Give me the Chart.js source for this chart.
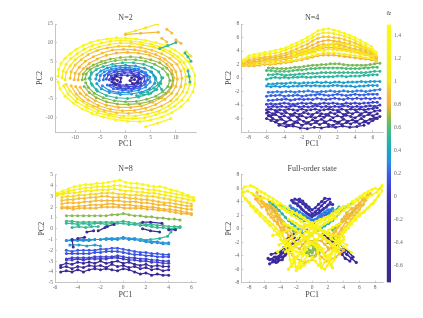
<!DOCTYPE html>
<html><head><meta charset="utf-8">
<style>html,body{margin:0;padding:0;background:#fff;width:423px;height:318px;overflow:hidden}
.p{position:absolute;filter:blur(.45px)}canvas{display:block}</style>
<script src="https://cdn.jsdelivr.net/npm/chart.js@4"></script></head><body>
<div class="p" style="left:0;top:0;width:212px;height:159px"><canvas id="c1"></canvas></div>
<div class="p" style="left:212px;top:0;width:175px;height:159px"><canvas id="c2"></canvas></div>
<div class="p" style="left:0;top:159px;width:212px;height:159px"><canvas id="c3"></canvas></div>
<div class="p" style="left:212px;top:159px;width:175px;height:159px"><canvas id="c4"></canvas></div>
<div class="p" style="left:380px;top:0;width:43px;height:318px"><canvas id="cb"></canvas></div>
<script>
// ---------- colour bar ----------
const cbarValues=[-0.75,-0.2,0,0.1,0.2,0.3,0.4,0.5,0.6,0.7,0.8,0.9,1.0,1.5];
const cbarColors=['#39288f','#3a2a9c','#3c34b4','#3f45d8','#3a60e6','#2a8ee0','#1aa6c6','#2db5a0','#4fbc78','#9ab840','#f5b335','#f5c03a','#f6e51f','#f9fb15'];
const cbarTicks=[-0.6,-0.4,-0.2,0,0.2,0.4,0.6,0.8,1,1.2,1.4];

// ---------- N=2 ----------
const n2Ya=[[-13.4,1],[-13.3,2.8],[-12.8,4.4],[-12,5.8],[-11,7],[-9.8,8.2],[-8.4,9.2],[-7,10],[-5.4,10.6],[-3.6,11],[-1.8,11.3],[0,11.2],[2,11],[4,10.6],[6,10],[8,9.2],[9.8,8],[11.2,6.6],[12.4,5],[13.2,3.2],[13.8,1.2],[13.8,-1],[13.4,-3.2],[12.4,-5.4],[11,-7.2],[9.2,-8.8],[7.2,-10],[5,-10.8],[2.8,-11.2],[0.4,-11.1],[-2,-10.7],[-4.4,-10],[-6.6,-9],[-8.6,-7.8],[-10.4,-6.2],[-12,-4.4],[-13,-2.4],[-13.4,-0.6]];
const n2Yb=[[-12.6,0.6],[-12.4,2.4],[-11.8,4.2],[-10.8,5.8],[-9.6,7],[-8.2,8.2],[-6.6,9.2],[-4.8,9.9],[-3,10.4],[-1,10.6],[1,10.4],[3,10.1],[5,9.6],[7,8.8],[8.8,7.6],[10.4,6.2],[11.6,4.6],[12.4,2.8],[12.8,0.8],[12.8,-1.2],[12.2,-3.4],[11.2,-5.4],[9.8,-7],[8,-8.4],[6,-9.4],[3.8,-10.2],[1.4,-10.4],[-1,-10.2],[-3.4,-9.6],[-5.6,-8.8],[-7.8,-7.4],[-9.8,-5.8],[-11.4,-3.8],[-12.3,-1.6]];
const n2Yc=[[-12,0],[-11.8,2],[-11,3.8],[-10,5.4],[-8.6,6.8],[-7,8],[-5.2,8.9],[-3.2,9.5],[-1,9.9],[1.2,9.8],[3.4,9.4],[5.6,8.8],[7.6,7.8],[9.4,6.4],[10.8,4.8],[11.6,3],[12,1],[11.9,-1.2],[11.4,-3.2],[10.2,-5.2],[8.6,-7],[6.6,-8.4],[4.4,-9.2],[2,-9.7],[-0.4,-9.7],[-3,-9.2],[-5.4,-8.2],[-7.6,-6.8],[-9.6,-5],[-11,-3],[-11.8,-1.2]];
const n2Oa=[[-11,0.4],[-10.8,2.2],[-10,4],[-8.8,5.4],[-7.4,6.8],[-5.6,7.9],[-3.6,8.6],[-1.4,9],[0.8,9],[3,8.7],[5.2,8],[7.2,7],[8.8,5.8],[10.2,4.2],[11,2.4],[11.2,0.4],[11,-1.8],[10.2,-3.8],[9,-5.6],[7.2,-7],[5.2,-8],[3,-8.7],[0.6,-9],[-1.8,-8.8],[-4.2,-8.2],[-6.4,-7],[-8.4,-5.6],[-9.8,-3.8],[-10.8,-1.6]];
const n2Ob=[[-10.2,0],[-10,1.8],[-9.2,3.4],[-8,5],[-6.4,6.2],[-4.6,7.2],[-2.6,8],[-0.4,8.2],[1.8,8.1],[4,7.6],[6,6.8],[7.8,5.6],[9.2,4],[10,2.2],[10.3,0.2],[10,-1.8],[9.2,-3.6],[7.8,-5.2],[6,-6.6],[4,-7.6],[1.8,-8.2],[-0.6,-8.3],[-3,-7.9],[-5.4,-6.9],[-7.4,-5.4],[-9,-3.6],[-9.9,-1.8]];
const n2Oc=[[-9.4,0],[-9.2,1.6],[-8.4,3],[-7.2,4.4],[-5.6,5.6],[-3.8,6.6],[-1.8,7.2],[0.4,7.4],[2.6,7.2],[4.8,6.6],[6.8,5.6],[8.2,4.2],[9.2,2.6],[9.6,0.6],[9.4,-1.4],[8.6,-3.2],[7.2,-4.8],[5.4,-6],[3.2,-7],[1,-7.4],[-1.4,-7.4],[-3.8,-6.8],[-6,-5.6],[-7.8,-4],[-9,-2]];
const n2Ga=[[-8.6,0],[-8.4,1.6],[-7.6,3],[-6.4,4],[-4.8,4.9],[-3,5.6],[-1,6],[1,6.2],[3,6],[5,5.4],[6.8,4.6],[8.2,3.2],[9.2,1.6],[9.4,-0.2],[9,-2],[8,-3.6],[6.6,-4.8],[4.8,-5.8],[2.8,-6.4],[0.6,-6.6],[-1.6,-6.5],[-3.8,-5.9],[-5.8,-4.8],[-7.2,-3.4],[-8.2,-1.8]];
const n2Gb=[[-8,0.2],[-7.8,1.6],[-7,2.8],[-5.6,3.8],[-4,4.6],[-2,5.2],[0,5.4],[2,5.4],[4,5],[5.8,4.2],[7.4,3],[8.4,1.4],[8.8,-0.2],[8.4,-1.8],[7.4,-3.2],[6,-4.4],[4.2,-5.2],[2.2,-5.8],[0,-5.9],[-2.2,-5.6],[-4.4,-4.8],[-6.2,-3.6],[-7.4,-2],[-7.9,-0.8]];
const n2Ta=[[-7,0.2],[-6.8,1.6],[-5.8,2.8],[-4.4,3.6],[-2.6,4.2],[-0.6,4.6],[1.6,4.6],[3.6,4.2],[5.2,3.4],[6.6,2.2],[7.2,0.6],[7,-1],[6,-2.6],[4.6,-3.8],[2.6,-4.6],[0.4,-5],[-1.8,-4.8],[-3.8,-4.2],[-5.6,-3],[-6.6,-1.4]];
const n2Ba=[[-5.9,0.2],[-5.7,1.4],[-4.9,2.4],[-3.6,3.2],[-2,3.7],[0,3.9],[2,3.7],[3.8,3.1],[5.2,2.1],[5.9,0.7],[5.8,-0.9],[4.8,-2.4],[3.2,-3.3],[1.2,-3.8],[-1,-3.9],[-3.2,-3.4],[-4.8,-2.4],[-5.7,-1]];
const n2Bb=[[-5.2,-0.2],[-5,1.2],[-4.2,2.2],[-2.8,2.9],[-1,3.3],[0.8,3.3],[2.6,2.9],[4,2],[4.8,0.8],[4.9,-0.6],[4,-1.9],[2.6,-2.8],[0.6,-3.3],[-1.4,-3.4],[-3.2,-2.9],[-4.6,-1.6]];
const n2Ca=[[-4.4,0],[-4.2,1.2],[-3.2,2.2],[-1.8,2.7],[0,2.9],[1.8,2.7],[3.2,2.2],[4.2,1.2],[4.4,0],[3.9,-1.2],[2.8,-2.1],[1.2,-2.7],[-0.6,-2.8],[-2.4,-2.4],[-3.6,-1.4]];
const n2Cb=[[-3.8,0.2],[-3.4,1.4],[-2.2,2.1],[-0.6,2.4],[1,2.4],[2.6,1.9],[3.7,0.9],[3.8,-0.4],[3,-1.5],[1.6,-2.2],[0,-2.4],[-1.6,-2.2],[-3,-1.4]];
const n2Cc=[[-3.2,0],[-2.8,1.1],[-1.6,1.7],[-0.2,1.9],[1.2,1.9],[2.6,1.3],[3.2,0.4],[3,-0.8],[2,-1.6],[0.6,-1.9],[-1,-1.9],[-2.4,-1.2]];
const n2Cd=[[-2.6,0.4],[-2,1.2],[-0.8,1.3],[0.4,1.2],[1.6,1.3],[2.6,0.7],[2.4,-0.4],[1.6,-1.2],[0.2,-1.4],[-1.2,-1.4],[-2.2,-0.8]];
const n2Core1=[[-2.6,0.3],[-1.8,1],[-0.9,0.5],[-1,-0.6],[-2,-1.2],[-2.7,-0.5],[-2.2,0.2],[-1.6,-0.2]];
const n2Core2=[[1.2,0.6],[2,1],[2.8,0.3],[2.4,-0.8],[1.4,-1],[0.9,-0.2],[1.8,0.1]];
const n2Loose1=[[5,2.2],[5.6,1.2],[6,0.2],[6.6,-1.4],[7.2,-2.6]];
const n2Loose2=[[3,-3.6],[4.4,-3.2],[5.6,-2.2],[6.8,-0.8],[7.4,0.6]];
const n2Loose3=[[-6.8,2],[-7.2,0.4],[-6.8,-1],[-5.8,-2.6]];
const n2Loose4=[[2.2,-4.2],[3.6,-4],[5,-3.6],[6.2,-2.6]];
const n2Spur1=[[0,12.4],[2,13.2],[4,14],[6.4,15]];
const n2Spur2=[[0,12.2],[3,12.5],[6.5,12.8]];
const n2Spur3=[[8.2,13.6],[9.2,12.6]];
const n2Spur4=[[7.2,11.2],[8.2,10.2]];
const n2Spur5=[[10,10.8],[11,9.8]];
const n2Spur6=[[12,7.6],[13,6.4]];
const n2Spur7=[[4,-12.6],[6.4,-11.6],[9,-10.4]];
const n2Spur8=[[6.8,8.4],[8.4,9.2],[10,10]];
const n2Spur9=[[11.8,7.2],[12.4,6.2],[13,5]];
const n2Spur10=[[12.4,2.4],[12.6,1],[12.8,-0.6]];
const n2Tracks=[n2Ya,n2Yb,n2Yc,n2Oa,n2Ob,n2Oc,n2Ga,n2Gb,n2Ta,n2Loose1,n2Loose2,n2Loose3,n2Loose4,n2Ba,n2Bb,n2Ca,n2Cb,n2Cc,n2Cd,n2Core1,n2Core2,n2Spur1,n2Spur2,n2Spur3,n2Spur4,n2Spur5,n2Spur6,n2Spur7,n2Spur8,n2Spur9,n2Spur10];
const n2Values=[1.4,1.25,1.05,0.92,0.88,0.84,0.7,0.66,0.52,0.5,0.5,0.5,0.5,0.34,0.3,0.22,0.14,0.1,0.05,-0.2,-0.2,1.05,0.85,0.9,0.9,0.85,1.0,1.3,0.52,0.52,0.52];

// ---------- N=4 (rows sampled along shared x lists) ----------
const x4a=[-6,-5.5,-5,-4.5,-4,-3.5,-3,-2.5,-2,-1.5,-1,-0.5,0,0.5,1,1.5,2,2.5,3,3.5,4,4.5,5,5.5,6,6.5];
const x4b=[-5.8,-5.3,-4.8,-4.3,-3.8,-3.3,-2.8,-2.3,-1.8,-1.3,-0.8,-0.3,0.2,0.7,1.2,1.7,2.2,2.7,3.2,3.7,4.2,4.7,5.2,5.7,6.2,6.8];
const x4w=[-8.6,-8,-7.4,-6.8,-6.2,-5.6,-5,-4.4,-3.8,-3.2,-2.6,-2,-1.4,-0.8,-0.2,0.4,1,1.6,2.2,2.8,3.4,4,4.6,5.2,5.8,6.4];
const x4r=[-3,-2.5,-2,-1.5,-1,-0.5,0,0.5,1,1.5,2,2.5,3,3.5,4,4.5,5,5.5,6];
const x4low=[-4.6,-3.8,-3,-2.2,-1.4,-0.6,0.2,1,1.8,2.6,3.4,4.2,5];
const n4D1=[-7,-7.2,-7.1,-7.4,-7.5,-7.3,-7.4,-7.2,-7.3,-7.1,-7.3,-7.2,-7];
const n4D2=[-6,-6.3,-6.5,-6.9,-6.7,-7,-6.8,-6.6,-7,-6.7,-6.9,-6.6,-6.9,-6.6,-6.9,-7,-6.7,-6.9,-6.6,-6.8,-6.5,-6.8,-6.5,-6.7,-6.3,-6];
const n4D3=[-5.6,-6,-6.3,-6.1,-6.5,-6.2,-6.5,-6.1,-6.4,-6.6,-6.2,-6.4,-6.1,-6.5,-6.2,-6.4,-6.5,-6.1,-6.4,-6.2,-6.4,-6,-6.4,-6.1,-5.9,-5.7];
const n4D4=[-5.2,-5.6,-5.4,-5.8,-5.6,-5.9,-5.5,-5.8,-5.6,-5.9,-5.7,-5.9,-5.6,-5.8,-5.5,-5.9,-5.6,-5.8,-5.5,-5.7,-5.9,-5.5,-5.7,-5.4,-5.6,-5.3];
const n4D5=[-5,-5.3,-5,-5.3,-5.1,-5.4,-5.2,-5.4,-5.1,-5.3,-5.4,-5.1,-5.3,-5.4,-5.1,-5.3,-5,-5.4,-5.1,-5.3,-5,-5.3,-5,-5.2,-4.9,-4.8];
const n4D6=[-4.7,-4.6,-4.8,-4.7,-4.8,-4.6,-4.7,-4.8,-4.6,-4.8,-4.7,-4.6,-4.8,-4.7,-4.6,-4.7,-4.8,-4.6,-4.8,-4.6,-4.7,-4.6,-4.7,-4.6,-4.5,-4.4];
const n4B1=[-4.3,-4.2,-4.3,-4.2,-4.3,-4.2,-4.1,-4.3,-4.2,-4.3,-4.2,-4.1,-4.3,-4.2,-4.3,-4.2,-4.3,-4.1,-4.2,-4.3,-4.2,-4.3,-4.2,-4.1,-4.2,-4];
const n4B2=[-3.9,-3.8,-3.9,-3.8,-3.7,-3.8,-3.9,-3.8,-3.7,-3.8,-3.7,-3.9,-3.8,-3.7,-3.8,-3.7,-3.8,-3.9,-3.7,-3.8,-3.7,-3.8,-3.7,-3.7,-3.6,-3.6];
const n4B3=[-3.3,-3.3,-3.2,-3.2,-3.1,-3.3,-3.2,-3.1,-3.2,-3.1,-3.2,-3,-3.1,-3.2,-3.1,-3,-3.1,-3.2,-3,-3.1,-3,-3.1,-3,-3.1,-3,-3];
const n4B4=[-2.7,-2.6,-2.6,-2.5,-2.7,-2.6,-2.6,-2.5,-2.7,-2.6,-2.5,-2.5,-2.4,-2.5,-2.6,-2.5,-2.4,-2.5,-2.6,-2.5,-2.4,-2.5,-2.5,-2.4,-2.4,-2.4];
const n4B5=[-2.1,-2.1,-2,-2.1,-2,-2,-2.1,-2,-2,-1.9,-2,-2.1,-2,-2,-1.9,-2,-2,-1.9,-2,-2,-1.9,-1.9,-2,-1.9,-1.8,-1.7];
const n4C1=[-1.2,-1.3,-1.2,-1.3,-1.2,-1.3,-1.2,-1.2,-1.2,-1.1,-1.2,-1.1,-1.2,-1.2,-1.2,-1.1,-1.1,-1.2,-1.2,-1.2,-1.3,-1.2,-1.2,-1.1,-1.1,-1.1];
const n4C2=[-0.9,-0.9,-0.8,-0.8,-0.8,-0.7,-0.7,-0.8,-0.7,-0.7,-0.7,-0.6,-0.7,-0.6,-0.7,-0.6,-0.6,-0.7,-0.6,-0.6,-0.6,-0.5,-0.6,-0.5,-0.5,-0.5];
const n4T1=[-0.2,0,0.1,0,0.1,0,0.1,0.1,0.2,0.1,0.1,0.2,0.2,0.2,0.2,0.2,0.3,0.3,0.2,0.3,0.3,0.3,0.4,0.4,0.5,0.5];
const n4T2=[0.5,0.5,0.6,0.5,0.4,0.5,0.5,0.6,0.6,0.7,0.7,0.7,0.8,0.8,0.8,0.8,0.8,0.8,0.8,0.8,0.8,0.8,0.8,0.9,1,1];
const n4G1=[1.1,1.1,1,1,1,1,1.1,1.2,1.2,1.3,1.4,1.4,1.5,1.5,1.5,1.5,1.5,1.5,1.4,1.4,1.4,1.4,1.5,1.5,1.6,1.6];
const n4G2=[1.5,1.5,1.4,1.4,1.4,1.5,1.6,1.6,1.7,1.8,1.9,1.9,2,2,2.1,2.1,2.1,2,1.9,1.9,1.9,1.9,1.9,2,2.1,2.2];
const n4O1=[1.8,1.8,1.8,1.9,2,2,2.1,2.2,2.3,2.4,2.6,2.7,2.9,3.1,3.3,3.4,3.4,3.4,3.3,3.2,3.1,3,2.9,2.8,2.7,2.5];
const n4Y5=[1.9,2,2,2.1,2.2,2.2,2.3,2.4,2.5,2.6,2.7,2.9,3.1,3.3,3.5,3.7,3.7,3.7,3.6,3.5,3.4,3.3,3.2,3,2.9,2.6];
const n4O2=[2,2.1,2.2,2.3,2.5,2.5,2.6,2.7,2.8,3,3.2,3.4,3.7,4,4.3,4.5,4.5,4.5,4.4,4.3,4.1,3.9,3.7,3.5,3.2,2.8];
const n4Y4=[2.1,2.2,2.3,2.4,2.6,2.6,2.7,2.8,3,3.1,3.3,3.6,3.9,4.2,4.5,4.7,4.8,4.7,4.6,4.5,4.3,4.1,3.9,3.6,3.3,2.9];
const n4O3=[2.2,2.3,2.4,2.5,2.7,2.8,2.8,3,3.1,3.3,3.5,3.8,4.1,4.4,4.8,5,5,5,4.9,4.7,4.5,4.3,4.1,3.8,3.5,2.9];
const n4O4=[2.3,2.5,2.6,2.8,2.9,3,3.1,3.2,3.4,3.7,3.9,4.2,4.5,4.9,5.3,5.5,5.6,5.5,5.4,5.2,5,4.7,4.4,4.1,3.7,3];
const n4O5=[2.4,2.7,2.9,3,3.1,3.2,3.3,3.5,3.7,4,4.3,4.7,5,5.5,5.9,6.1,6.1,6,5.9,5.7,5.4,5.2,4.8,4.4,4,3.2];
const n4Y2=[2.5,3,3.2,3.3,3.5,3.6,3.7,3.9,4.2,4.5,4.8,5.2,5.5,6,6.5,6.7,6.7,6.6,6.4,6.2,5.9,5.6,5.2,4.7,4.3,3.4];
const n4Y1=[2.7,3.3,3.5,3.6,3.8,3.9,4.1,4.3,4.5,4.9,5.2,5.6,6,6.5,7,7.2,7.3,7.1,6.9,6.6,6.3,6,5.6,5.1,4.7,3.8];
const n4Y3=[3.8,3.9,4,4.1,4.1,4.3,4.5,4.7,5,5.1,5.2,5.1,5,4.9,4.8,4.6,4.4,4.2,3.9];
const n4Y6=[3.4,3.4,3.5,3.6,3.7,3.9,4.2,4.1,4.3,4.2,4.2,4.1,4,3.9,3.8,3.6,3.5,3.4,3.3];
const n4Rows=[n4D1,n4D2,n4D3,n4D4,n4D5,n4D6,n4B1,n4B2,n4B3,n4B4,n4B5,n4C1,n4C2,n4T1,n4T2,n4G1,n4G2,n4O1,n4Y5,n4O2,n4Y4,n4O3,n4O4,n4O5,n4Y2,n4Y1,n4Y3,n4Y6];
const n4RowX=[x4low,x4a,x4b,x4a,x4b,x4a,x4b,x4a,x4b,x4a,x4b,x4a,x4b,x4a,x4b,x4a,x4b,x4w,x4w,x4w,x4w,x4w,x4w,x4w,x4w,x4w,x4r,x4r];
const n4Values=[-0.3,-0.4,-0.5,-0.35,-0.25,-0.1,0.03,0.07,0.14,0.2,0.26,0.34,0.38,0.5,0.54,0.6,0.66,0.8,1.1,0.84,1.15,0.9,0.86,0.92,1.2,1.4,1.05,1.1];

// ---------- N=8 ----------
const x8a=[-5.8,-5.3,-4.8,-4.3,-3.8,-3.3,-2.8,-2.3,-1.8,-1.3,-0.8,-0.3,0.2,0.7,1.2,1.7,2.2,2.7,3.2,3.7,4.2,4.7,5.2,5.7,6.2];
const x8d=[-5.4,-4.9,-4.4,-3.9,-3.4,-2.9,-2.4,-1.9,-1.4,-0.9,-0.4,0.1,0.6,1.1,1.6,2.1,2.6,3.1,3.6,4.1,4.6,5.1,5.6,6];
const x8b=[-5,-4.5,-4,-3.5,-3,-2.5,-2,-1.5,-1,-0.5,0,0.5,1,1.5,2,2.5,3,3.5,4,4.5,5];
const x8c=[-5.5,-5,-4.5,-4,-3.5,-3,-2.5,-2,-1.5,-1,-0.5,0,0.5,1,1.5,2,2.5,3,3.5,4];
const n8Y1=[3.3,3.5,3.7,3.9,4,4.1,4.1,4.2,4.2,4.3,4.4,4.5,4.3,4.2,4.2,4.1,4,3.9,3.9,3.8,3.6,3.5,3.3,3.1,2.9];
const n8Y2=[3.2,3.3,3.5,3.6,3.7,3.8,3.8,3.9,3.9,3.9,4,4,3.9,3.8,3.8,3.7,3.6,3.6,3.5,3.4,3.3,3.2,3.1,3,2.7];
const n8Y3=[3.1,3.2,3.3,3.3,3.4,3.5,3.5,3.6,3.6,3.6,3.7,3.6,3.5,3.5,3.4,3.4,3.3,3.3,3.2,3.1,3,2.9,2.8,2.7,2.6];
const n8O1=[2.9,3,3,3.1,3.1,3.2,3.2,3.3,3.3,3.3,3.2,3.2,3.1,3.1,3.1,3,3,2.9,2.8,2.7,2.6,2.5,2.4,2.3];
const n8O2=[2.6,2.7,2.7,2.8,2.8,2.9,2.9,3,3,2.9,2.9,2.9,2.8,2.8,2.7,2.7,2.6,2.5,2.4,2.4,2.3,2.2,2.1,2.1];
const n8O3=[2.3,2.4,2.4,2.4,2.5,2.5,2.6,2.6,2.6,2.6,2.6,2.5,2.5,2.5,2.4,2.4,2.3,2.2,2.2,2.1,2,1.9,1.8,1.8];
const n8O4=[2,2,2,2.1,2.1,2.2,2.2,2.2,2.3,2.3,2.2,2.2,2.2,2.1,2.1,2,2,1.9,1.8,1.8,1.7,1.6,1.5,1.4];
const n8O5=[1.9,1.9,1.8,1.9,1.9,1.9,1.9,2,2,2,2,1.9,1.9,1.9,1.9,1.8,1.8,1.7,1.7,1.6,1.5,1.4,1.4,1.3];
const n8G1=[1.2,1.2,1.2,1.2,1.2,1.2,1.2,1.2,1.3,1.3,1.4,1.3,1.2,1.2,1.1,1.1,1,1,0.9,0.9,0.8];
const n8T1=[0.7,0.7,0.6,0.6,0.6,0.6,0.6,0.6,0.6,0.6,0.7,0.6,0.5,0.5,0.4,0.4,0.3,0.3,0.2,0.2,0.2];
const n8T2=[0.5,0.5,0.4,0.5,0.4,0.5,0.5,0.4,0.5,0.5,0.5,0.4,0.4,0.3,0.3,0.2,0.1,0.1,0,0,0.1];
const n8T3=[[-4.5,0.1],[-3.9,0.2],[-3.3,0.1],[-2.8,0.2],[-2.2,0.2]];
const n8T4=[[1.6,-1],[2.4,-1],[3.2,-0.9],[3.9,-0.7],[4.2,-0.3]];
const n8C1=[[-4.7,-1.5],[-3.9,-1.5],[-3.2,-1.6],[-2.5,-1.5],[-2,-1.6]];
const n8C2=[-1.1,-1,-1,-1,-1,-1,-1,-0.9,-0.9,-0.9,-0.8,-0.9,-0.9,-1,-1.1,-1.2,-1.2,-1.3,-1.3];
const n8C3=[-1.1,-1.1,-1.1,-1.1,-1.1,-1,-1,-1,-1,-1,-0.9,-1,-1,-1.1,-1.2,-1.3,-1.3,-1.4,-1.4];
const n8B1=[-2,-2.1,-2,-2,-2,-2,-1.9,-1.9,-1.8,-1.8,-1.9,-2,-2.1,-2.2,-2.2,-2.3,-2.3,-2.4,-2.4];
const n8B2=[-2.3,-2.3,-2.3,-2.3,-2.3,-2.2,-2.2,-2.1,-2.1,-2.1,-2.2,-2.3,-2.4,-2.4,-2.5,-2.5,-2.6,-2.6,-2.6];
const n8B3=[-2.8,-2.7,-2.7,-2.7,-2.7,-2.6,-2.6,-2.6,-2.6,-2.5,-2.6,-2.7,-2.7,-2.8,-2.8,-2.9,-2.9,-3,-3];
const n8B4=[-2.9,-2.9,-2.8,-2.9,-2.8,-2.8,-2.8,-2.8,-2.7,-2.7,-2.8,-2.9,-2.9,-3,-3,-3.1,-3.1,-3.2,-3.2];
const n8D1=[-3.4,-3.2,-3.3,-3.1,-3.2,-3.1,-3.2,-3,-3.2,-3.1,-3,-3.2,-3.1,-3.3,-3.4,-3.3,-3.5,-3.4,-3.5,-3.5];
const n8D2=[-3.6,-3.5,-3.7,-3.5,-3.6,-3.4,-3.5,-3.4,-3.6,-3.3,-3.5,-3.4,-3.6,-3.5,-3.7,-3.6,-3.8,-3.7,-3.9,-3.8];
const n8D3=[-4,-3.9,-4,-3.8,-4,-3.8,-3.7,-3.8,-3.7,-3.8,-3.9,-3.7,-3.8,-4,-4.2,-4.1,-4.3,-4.2,-4.3,-4.3];
const n8Dash1=[[-4.5,-1],[-4.4,-1.7]];
const n8Dash2=[[-4,-0.9],[-3.4,-0.8]];
const n8Dash3=[[-3.2,-0.3],[-2.6,-0.2]];
const n8Dash4=[[-2.2,-0.2],[-1.6,0.1]];
const n8Dash5=[[-1.4,0.2],[-0.8,0.4]];
const n8Dash6=[[1.7,0.6],[2.4,0.6],[3.4,0.5]];
const n8Dash7=[[1.7,0],[2.4,-0.2],[3.2,-0.3]];
const n8Dash8=[[4,-0.1],[4.6,-0.1]];
const n8Rows=[n8Y1,n8Y2,n8Y3,n8O1,n8O2,n8O3,n8O4,n8O5,n8G1,n8T1,n8T2,n8C2,n8C3,n8B1,n8B2,n8B3,n8B4,n8D1,n8D2,n8D3];
const n8RowX=[x8a,x8a,x8a,x8d,x8d,x8d,x8d,x8d,x8b,x8b,x8b,x8c.slice(1),x8c.slice(1),x8c.slice(1),x8c.slice(1),x8c.slice(1),x8c.slice(1),x8c,x8c,x8c];
const n8Values=[1.4,1.25,1.1,0.96,0.9,0.86,0.84,0.82,0.68,0.56,0.53,0.34,0.32,0.18,0.14,0.08,0.05,-0.3,-0.4,-0.45];
const n8Extra=[n8T3,n8T4,n8C1,n8Dash1,n8Dash2,n8Dash3,n8Dash4,n8Dash5,n8Dash6,n8Dash7,n8Dash8];
const n8ExtraValues=[0.54,0.5,0.36,-0.3,-0.3,-0.3,-0.3,-0.3,-0.3,-0.3,-0.3];

// ---------- Full-order state ----------
const foDark1=[[-5.4,-5.2],[-4.8,-4.8],[-4.2,-4.2],[-3.6,-3.5],[-3,-2.8],[-2.4,-2.1],[-1.8,-1.5],[-1.2,-0.8],[-0.6,-0.2]];
const foDark2=[[-5.6,-4.4],[-5,-4.6],[-4.4,-4.9],[-3.8,-4.6],[-3.4,-3.9],[-2.8,-3.2],[-2.2,-2.5],[-1.6,-2]];
const foDark3=[[-5.2,-3.8],[-4.6,-3.6],[-4,-3.4],[-3.6,-2.8],[-3.2,-2],[-2.6,-1.3],[-2,-0.6],[-1.4,-0.2]];
const foDark4=[[-4.6,-4.2],[-4,-3.8],[-3.4,-3.2],[-2.8,-2.4],[-2.2,-1.4],[-2.8,-1.2],[-3.4,-1.6],[-2.4,-0.8]];
const foDark5=[[5.6,-5],[5,-4.4],[4.4,-3.8],[3.8,-3.2],[3.2,-2.6],[2.6,-2],[2,-1.4],[1.4,-0.8]];
const foDark6=[[5.2,-4.2],[4.6,-3.4],[4,-2.8],[3.4,-2.2],[2.8,-1.4],[2.2,-0.8],[2.6,-1],[3.2,-1.4]];
const foDark7=[[4.8,-4.8],[4.2,-4.4],[3.8,-3.8],[4.2,-3.2],[3.4,-3],[2.6,-2.6],[2,-2],[3,-2]];
const foDark8=[[-2.2,4.4],[-1.6,4],[-1.2,3.7],[-0.8,3.2],[-0.4,2.8],[0,2.2],[0.4,2.5],[0.8,2.9],[1.2,3.4],[1.6,3.9],[2.2,4.4],[1.6,4.5],[1.2,4],[0.8,3.6],[0.4,3.1],[0,2.8],[-0.4,3.2],[-0.8,3.6],[-1.2,4.1],[-1.6,4.4],[-2.6,4.2],[-2.2,3.8],[-1.8,3.4],[-1.3,2.9],[-0.8,2.4],[-0.4,2.1],[0,1.8],[0.5,2.2],[1,2.6],[1.5,3],[2,3.5],[2.6,3.6]];
const foDark9=[[-5.4,-4.6],[-4.8,-4.2],[-4.2,-4.6],[-4.6,-5],[-5,-4.9],[-4.4,-4.4],[-3.8,-4.2],[-3.2,-3.6],[-2.6,-2.8],[-2,-2.2]];
const foDark10=[[-2.4,3.9],[-1.9,3.7],[-1.5,3.2],[-1.1,2.7],[-0.6,2.2],[-0.2,1.9],[0.3,2],[0.9,2.3],[1.3,2.8],[1.8,3.2],[2.3,3.9]];
const foBlue1=[[-2.8,3.4],[-2.4,3],[-2,2.8],[-1.6,2.5],[-1.2,2.2],[-0.8,1.9],[-0.4,1.6],[0,1.3],[0.4,1.4],[0.8,1.8],[1.2,2.2],[1.6,2.5],[2,2.8],[2.6,3]];
const foBlue2=[[-2.8,2.6],[-2.4,2.3],[-2,2],[-1.6,1.8],[-1.2,1.6],[-0.8,1.3],[-0.2,1],[0.2,0.9],[0.6,1.2],[1,1.5],[1.4,1.8],[1.8,2.1],[2.2,2.4]];
const foBlue3=[[-2.7,3],[-2.2,2.5],[-1.8,2.2],[-1.4,2],[-1,1.8],[-0.6,1.5],[-0.2,1.3],[0.3,1.2],[0.8,1.5],[1.2,1.9],[1.7,2.3],[2.4,2.7]];
const foTeal1=[[-5.4,4],[-5,3.6],[-4.6,3.2],[-4.2,2.7],[-3.8,2.2],[-3.4,1.7],[-3,1.2],[-2.6,0.8],[-2.2,0.4],[-1.8,0],[-1.4,-0.4]];
const foTeal2=[[5,3.8],[4.6,3.5],[4.2,3.2],[3.8,2.7],[3.4,2.2],[3,1.7],[2.6,1.2],[2.1,0.8],[1.6,0.4],[1.2,0.1],[0.8,-0.2]];
const foTeal3=[[-4,3.5],[-3.5,3.1],[-3,2.8],[-2.5,2.4],[-2,2],[-1.5,1.6],[-1,1.2]];
const foTeal4=[[3.4,3.2],[2.8,2.6],[2.2,2],[1.6,1.4]];
const foGreen1=[[-5.2,3.2],[-4.8,2.6],[-4.4,2],[-4,1.4],[-3.6,0.9],[-3.2,0.4],[-2.8,0],[-2.4,-0.3],[-2,-0.6]];
const foGreen2=[[6,3.4],[5.6,3],[5.2,2.6],[4.7,2],[4.2,1.4],[3.8,1],[3.4,0.6],[3,0.2],[2.6,-0.2]];
const foGreen3=[[-1,-3],[-0.7,-3.6],[-0.4,-4],[0,-4.1],[0.4,-4],[0.6,-3.5],[0.8,-3],[0.5,-2.5],[0.2,-2],[-0.2,-2.4],[-0.6,-2.8],[-0.3,-3.2],[0,-3.6],[0.3,-3],[0.6,-2.4]];
const foGreen4=[[-1.2,-2.4],[-0.8,-3.2],[-0.5,-3.6],[-0.1,-3.4],[0.2,-2.6],[0.5,-3.2],[0.9,-3.6],[1,-2.8]];
const foOrg1=[[-7.4,5],[-7,4.6],[-6.6,4.2],[-6.2,3.9],[-5.8,3.6],[-5.4,3.1],[-5,2.6],[-4.6,2],[-4.2,1.4],[-3.9,0.8],[-3.6,0.2],[-3.3,-0.4],[-3,-1],[-2.6,-1.5],[-2.2,-2]];
const foOrg2=[[-7,5.4],[-6.8,4.4],[-6.4,3.8],[-6,3.4],[-5.8,2.8],[-5.6,2.2],[-5.2,1.7],[-4.8,1.2],[-4.4,0.7],[-4,0.2],[-3.6,-0.2],[-3.2,-0.6]];
const foOrg3=[[-7.2,4.4],[-6.4,3.2],[-5.9,3.4],[-5.4,3.6],[-5,3.2],[-4.6,2.8],[-4.5,1.9],[-4.4,1],[-3.9,-0.4],[-3.4,-1.8],[-2.8,-2.4]];
const foOrg4=[[7.4,5.2],[6.9,4.7],[6.4,4.2],[6,3.8],[5.6,3.4],[5.2,2.8],[4.8,2.2],[4.4,1.7],[4,1.2],[3.6,0.7],[3.2,0.2],[2.9,-0.3],[2.6,-0.8]];
const foOrg5=[[6.8,4.2],[6.4,3.5],[6,2.8],[5.7,2.4],[5.4,2],[5,1.4],[4.6,0.8],[4.2,0.2],[3.8,-0.4],[3.4,-1.1],[3,-1.8]];
const foOrg6=[[7,5],[6.5,3.6],[5.8,3.2],[5,3],[4.4,2.4],[4.3,1],[3.7,0],[3.3,-0.8],[2.8,-2.2]];
const foOrg7=[[-3,-3.4],[-2.5,-3.9],[-2,-4.4],[-1.5,-4.7],[-1,-5],[-0.5,-4.8],[0,-4.6],[0.3,-4.1],[0.6,-3.6],[1.2,-4.2],[1.8,-4.8],[2.4,-4.5],[3,-4.2],[3.5,-3.7],[4,-3.2],[3.3,-2.9],[2.6,-2.6],[2.1,-3.1],[1.6,-3.6]];
const foOrg8=[[-2.8,-2.4],[-2.2,-2.7],[-1.6,-3],[-1.2,-2.4],[-0.8,-1.8],[0.2,-1.8],[1.2,-1.8],[1.6,-2.3],[2,-2.8],[2.6,-3],[3.2,-3.2]];
const foOrg9=[[-6.6,4.8],[-6.2,3.8],[-5.6,3],[-5.2,2.2],[-4.8,1.7],[-4.5,2.4],[-4.2,2],[-3.8,1.2],[-3.4,0.6],[-3,-0.2],[-2.6,-0.8]];
const foOrg10=[[6.4,4.6],[6.1,3.4],[5.4,2.6],[5,2],[4.6,1.5],[4.4,2.3],[4.1,1.8],[3.8,1.4],[3.4,0.4],[3,-0.4],[2.4,-1.4]];
const foYel1=[[-8.9,5.6],[-8.6,6.2],[-7.8,6.4],[-7.4,6.2],[-7,5.9],[-6.5,5.5],[-6,5.2],[-5.5,4.8],[-5,4.5],[-4.5,4.1],[-4,3.7],[-3.5,3.3],[-3,3],[-2.5,2.6],[-2,2.2],[-1.5,1.8],[-1,1.4],[-0.5,1],[0,0.6],[0.5,0.2],[1,-0.2],[1.5,-0.6],[2,-1],[2.5,-1.5],[3,-1.9],[3.5,-2.3],[4,-2.7],[5,-3.5]];
const foYel2=[[-8.9,5],[-8.4,4.4],[-8,3.9],[-7.5,3.3],[-7,2.8],[-6.5,2.2],[-6,1.7],[-5.5,1.1],[-5,0.6],[-4.6,0.1],[-4.2,-0.4],[-3.8,-1],[-3.4,-1.6],[-3.1,-2.1],[-2.8,-2.6],[-2.6,-3.2],[-2.4,-3.8],[-2.3,-4.4],[-2.2,-5],[-2.1,-5.6],[-2,-6.2],[-1.5,-5.8],[-1,-5.4],[-0.5,-4.9],[0,-4.4]];
const foYel12=[[-8.7,5.4],[-8.2,5.6],[-7.6,5.2],[-7,4.8],[-6.6,4.4],[-6.2,4.6],[-5.6,4.3],[-5,4],[-4.4,3.5],[-3.8,3],[-3.2,2.5],[-2.6,2],[-2,1.6],[-1.4,1.1],[-0.8,0.6],[-0.2,0.1],[0.4,-0.4],[1,-0.9],[1.6,-1.4],[2.2,-1.9],[2.8,-2.4],[3.4,-2.9]];
const foYel14=[[-8.5,4.4],[-7.8,3.4],[-7.2,2.6],[-6.6,1.9],[-6,1.2],[-5.4,0.5],[-4.8,-0.2],[-4.2,-1],[-3.8,-1.8],[-3.4,-2.6],[-3,-3.6],[-2.8,-4.6],[-2.6,-5.6]];
const foYel3=[[8.9,6.4],[8.4,5.8],[8,6],[7.6,5.8],[7.1,5.5],[6.6,5.2],[6.1,4.8],[5.6,4.4],[5.1,4],[4.6,3.6],[4.1,3.2],[3.6,2.9],[3.1,2.4],[2.6,2],[2.1,1.7],[1.6,1.4],[1.1,1],[0.6,0.6],[0.1,0.2],[-0.4,-0.2],[-0.9,-0.6],[-1.4,-1],[-1.9,-1.4],[-2.4,-1.8],[-2.9,-2.2],[-3.4,-2.6],[-4.4,-3.4]];
const foYel4=[[8.9,5.6],[8.4,4.8],[8,4.2],[7.5,3.6],[7,3],[6.5,2.4],[6,1.9],[5.5,1.3],[5,0.7],[4.6,0.1],[4.2,-0.4],[3.8,-1],[3.4,-1.5],[3.1,-2.1],[2.8,-2.7],[2.6,-3.2],[2.4,-3.8],[2.3,-4.4],[2.2,-5],[1.9,-5.5],[1.6,-6],[1.2,-5.7],[0.8,-5.4],[0.4,-4.8],[0,-4.2]];
const foYel13=[[8.7,6],[8.2,5.4],[7.6,5],[7,4.6],[6.4,4.8],[5.8,4.2],[5.2,3.7],[4.6,3.2],[4,2.7],[3.4,2.2],[2.8,1.8],[2.2,1.3],[1.6,0.8],[1,0.3],[0.4,-0.2],[-0.2,-0.7],[-0.8,-1.2],[-1.4,-1.7],[-2,-2.2],[-2.6,-2.7],[-3.2,-3.2]];
const foYel15=[[8.5,5],[7.8,3.8],[7.2,3.2],[6.6,2.6],[6,2.2],[5.4,1.6],[4.8,0.8],[4.2,0],[3.8,-0.6],[3.4,-2],[3,-3.4],[2.8,-4.6],[2.4,-5.4]];
const foYel5=[[-4.2,-2.4],[-3.6,-2],[-3,-1.6],[-2.5,-1.2],[-2,-0.8],[-1.5,-0.3],[-1,0.2],[-0.5,0.5],[0,0.8],[0.5,1.1],[1,1.4],[1.5,1.6],[2,1.8],[2.5,2.2],[3,2.6],[3.5,3],[4,3.3]];
const foYel6=[[4.4,-2.4],[3.7,-1.9],[3,-1.4],[2.5,-1],[2,-0.7],[1.5,-0.3],[1,0],[0.5,0.4],[0,0.9],[-0.5,1.2],[-1,1.6],[-1.5,2],[-2,2.3],[-2.5,2.4],[-3,2.5],[-3.5,2.9],[-4,3.2]];
const foYel7=[[-3,-6],[-2.5,-5.2],[-2,-4.4],[-1.5,-3.5],[-1,-2.6],[-0.5,-1.7],[0,-0.8],[0.5,-0.2],[1,0.4],[1.5,0.7],[2,1],[2.5,1.3],[3,1.6]];
const foYel8=[[2.6,-5.8],[2.1,-4.9],[1.6,-4],[1.2,-3.2],[0.8,-2.4],[0.4,-1.7],[0,-1],[-0.5,-0.5],[-1,0],[-1.5,0.4],[-2,0.8],[-2.5,1.1],[-3,1.4]];
const foYel9=[[-3.4,-3.4],[-3,-3.2],[-2.6,-3],[-2.1,-2.6],[-1.6,-2.2],[-1.1,-1.7],[-0.6,-1.2],[-0.1,-0.9],[0.4,-0.6],[0.9,-1],[1.4,-1.4],[1.9,-1.9],[2.4,-2.4],[2.9,-2.9],[3.4,-3.4]];
const foYel10=[[-4,-1.6],[-3.5,-2.1],[-3,-2.6],[-2.5,-3],[-2,-3.4],[-1.3,-3.7],[-0.6,-4],[-1,-4.7],[-1.4,-5.4],[-2,-6],[-1.6,-5],[-1.2,-4],[-0.8,-3.1],[-0.4,-2.2]];
const foYel11=[[4,-1.6],[3.5,-2.3],[3,-3],[2.5,-3.5],[2,-4],[1.6,-4.9],[1.2,-5.8],[1.1,-5.1],[1,-4.4],[0.7,-3.4],[0.4,-2.4],[0.9,-2.7],[1.4,-3]];
const foYel16=[[-5,-1],[-4.4,-0.8],[-3.8,-0.6],[-3,-0.2],[-2.4,0],[-1.6,0.3],[-1,0.5],[-0.4,0.4],[0.2,0.1],[1,-0.2],[1.6,-0.5],[2.4,-0.8],[3,-1],[4,-1.2]];
const foYel17=[[-3.6,0.8],[-3.1,0.5],[-2.6,0.2],[-2.1,-0.2],[-1.6,-0.6],[-1.1,-1.1],[-0.6,-1.6],[-0.1,-2.1],[0.4,-2.6],[0.9,-3.1],[1.4,-3.6],[1.9,-4.1],[2.4,-4.6]];
const foYel18=[[3.6,0.8],[3.1,0.5],[2.6,0.2],[2.1,-0.2],[1.6,-0.6],[1.1,-1.1],[0.6,-1.6],[0.1,-2.1],[-0.4,-2.6],[-0.9,-3.1],[-1.4,-3.6],[-1.9,-4.1],[-2.4,-4.6]];
const foTracks=[foDark1,foDark2,foDark3,foDark4,foDark5,foDark6,foDark7,foDark8,foDark9,foDark10,foBlue1,foBlue2,foBlue3,foTeal1,foTeal2,foTeal3,foTeal4,foGreen1,foGreen2,foGreen3,foGreen4,foOrg1,foOrg2,foOrg3,foOrg4,foOrg5,foOrg6,foOrg7,foOrg8,foOrg9,foOrg10,foYel1,foYel2,foYel12,foYel14,foYel3,foYel4,foYel13,foYel15,foYel5,foYel6,foYel7,foYel8,foYel9,foYel10,foYel11,foYel16,foYel17,foYel18];
const foValues=[-0.2,-0.3,-0.3,-0.3,-0.3,-0.3,-0.3,-0.1,-0.3,-0.05,0.28,0.2,0.24,0.5,0.5,0.5,0.5,0.66,0.66,0.66,0.68,0.86,0.9,0.84,0.86,0.9,0.88,0.86,0.85,0.9,0.88,1.4,1.3,1.25,1.35,1.4,1.3,1.25,1.35,1.2,1.3,1.3,1.2,1.2,1.4,1.3,1.25,1.3,1.3];

const xTicks1=[-10,-5,0,5,10], yTicks1=[-10,-5,0,5,10,15];
const xTicks2=[-8,-6,-4,-2,0,2,4,6], yTicks2=[-6,-4,-2,0,2,4,6,8];
const xTicks3=[-6,-4,-2,0,2,4,6], yTicks3=[-5,-4,-3,-2,-1,0,1,2,3,4,5];
const xTicks4=[-8,-6,-4,-2,0,2,4,6,8], yTicks4=[-8,-6,-4,-2,0,2,4,6,8];

const zip=(xs,ys)=>ys.map((y,i)=>[xs[i],y]);
function hex(h){return [1,3,5].map(i=>parseInt(h.substr(i,2),16));}
function colorOf(v){
  for(let i=1;i<cbarValues.length;i++){ if(v<=cbarValues[i]){
    const t=(v-cbarValues[i-1])/(cbarValues[i]-cbarValues[i-1]),a=hex(cbarColors[i-1]),b=hex(cbarColors[i]);
    return 'rgb('+a.map((c,k)=>Math.round(c+(b[k]-c)*t)).join(',')+')';}}
  return cbarColors[cbarColors.length-1];
}
const serif='"Liberation Serif","DejaVu Serif",serif';
const GREY='#666';
function axis(min,max,ticks,title,size,offset){
  return {type:'linear',min,max,
    afterBuildTicks(s){s.ticks=ticks.map(v=>({value:v}));},
    afterFit(s){ if(s.isHorizontal()) s.height=size; else s.width=size; },
    grid:{drawOnChartArea:false,tickLength:-2,color:'#999',lineWidth:.5},
    border:{color:'#c4c4c4',width:1},
    ticks:{padding:4,autoSkip:false,maxRotation:0,font:{family:serif,size:5.5},color:GREY},
    title:{display:true,text:title,color:'#444',font:{family:serif,size:8},padding:{top:offset,bottom:offset}}};
}
function panel(id,tracks,values,cfg){
  const c=document.getElementById(id);
  const ds=tracks.map((t,i)=>({data:t.map(p=>({x:p[0],y:p[1]})),showLine:true,
    borderColor:colorOf(values[i]),backgroundColor:colorOf(values[i]),borderWidth:cfg.lw||1.2,
    pointRadius:cfg.pr||1.5,pointBorderWidth:0,tension:0,order:-i}));
  new Chart(c,{type:'scatter',data:{datasets:ds},options:{responsive:false,animation:false,
    layout:{padding:{right:cfg.right,left:0,top:0,bottom:0}},
    plugins:{legend:{display:false},tooltip:{enabled:false},
      title:{display:true,fullSize:false,text:cfg.title,color:'#444',font:{family:serif,size:8,weight:'normal'},padding:{top:cfg.tt,bottom:cfg.tb}}},
    scales:{x:axis(cfg.xr[0],cfg.xr[1],cfg.xt,'PC1',cfg.xs,cfg.xo),y:axis(cfg.yr[0],cfg.yr[1],cfg.yt,'PC2',cfg.ys,cfg.yo)}}});
}
function size(id,w,h){const c=document.getElementById(id);c.width=w;c.height=h;c.style.width=w+'px';c.style.height=h+'px';}
size('c1',212,159);size('c2',175,159);size('c3',212,159);size('c4',175,159);size('cb',43,318);
const n4Tracks=n4Rows.map((r,i)=>zip(n4RowX[i],r));
const n8Tracks=n8Rows.map((r,i)=>zip(n8RowX[i],r)).concat(n8Extra);
panel('c1',n2Tracks,n2Values,{title:'N=2',right:16,tt:13,tb:1.4,xr:[-14,14],xt:xTicks1,yr:[-14,15],yt:yTicks1,xs:27,xo:10,ys:55,yo:35.2});
panel('c2',n4Tracks,n4Values,{title:'N=4',right:4,tt:13,tb:1.4,xr:[-8.85,7.15],xt:xTicks2,yr:[-8,8],yt:yTicks2,xs:27,xo:10,ys:29.3,yo:12});
panel('c3',n8Tracks,n8Values.concat(n8ExtraValues),{title:'N=8',right:16,tt:4.9,tb:1.2,xr:[-6,6.4],xt:xTicks3,yr:[-5,5],yt:yTicks3,xs:35.3,xo:18.5,ys:55,yo:37});
panel('c4',foTracks,foValues,{title:'Full-order state',right:4,tt:4.9,tb:1.2,xr:[-9,9],xt:xTicks4,yr:[-8,8],yt:yTicks4,xs:35.3,xo:18.5,ys:29.3,yo:12,lw:1.5,pr:1.6});

new Chart(document.getElementById('cb'),{type:'bar',
  data:{labels:['e'],datasets:[{data:[[-0.75,1.5]],barPercentage:1,categoryPercentage:1,borderSkipped:false,
    backgroundColor(ctx){const a=ctx.chart.chartArea;if(!a)return '#888';
      const g=ctx.chart.ctx.createLinearGradient(0,a.bottom,0,a.top);
      cbarValues.forEach((v,i)=>g.addColorStop((v+0.75)/2.25,cbarColors[i]));return g;}}]},
  options:{responsive:false,animation:false,layout:{padding:{left:6.7,top:0,right:0,bottom:35.5}},
    plugins:{legend:{display:false},tooltip:{enabled:false},
      title:{display:true,fullSize:false,text:'ēz',color:'#444',font:{family:serif,size:7,style:'italic',weight:'normal'},padding:{top:9,bottom:7.1}}},
    scales:{x:{display:false},
      y:{position:'right',min:-0.75,max:1.5,afterBuildTicks(s){s.ticks=cbarTicks.map(v=>({value:v}));},
        afterFit(s){s.width=32;},
        grid:{drawOnChartArea:false,tickLength:-2,color:'#777',lineWidth:.5},border:{display:false},
        ticks:{padding:5,autoSkip:false,font:{family:serif,size:5.5},color:GREY,callback:v=>String(v)}}}}});
</script></body></html>
